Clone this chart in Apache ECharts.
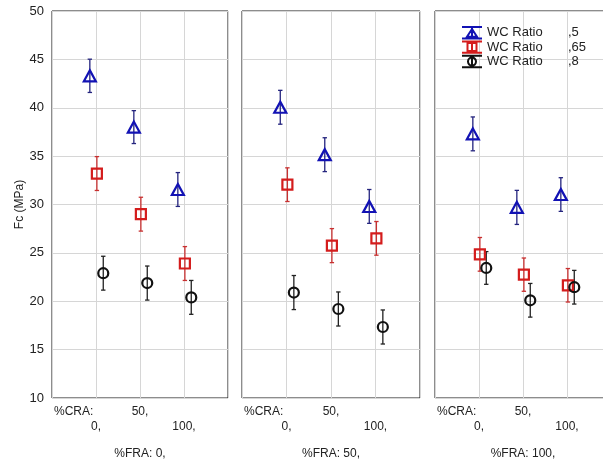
<!DOCTYPE html>
<html>
<head>
<meta charset="utf-8">
<script src="https://cdn.jsdelivr.net/npm/echarts@6/dist/echarts.min.js"></script>
<style>
html,body{margin:0;padding:0;background:#fff;}
#chart{width:603px;height:461px;}
</style>
</head>
<body>
<div id="chart"></div>
<script>
// Category labels
const craLevels = ['0,', '50,', '100,'];
const craTitle = '%CRA:';
const fraLabels = ['%FRA: 0,', '%FRA: 50,', '%FRA: 100,'];
const wcLabels = [',5', ',65', ',8'];
const yTicks = [10, 15, 20, 25, 30, 35, 40, 45, 50];

// Fc means, order: FRA 0 (CRA 0,50,100), FRA 50 (...), FRA 100 (...)
const fcWc05 = [43.3, 38.0, 31.55, 40.05, 35.15, 29.8, 37.3, 29.7, 31.03];
const fcWc065 = [33.2, 29.0, 23.9, 32.05, 25.75, 26.5, 24.85, 22.75, 21.65];
const fcWc08 = [22.9, 21.88, 20.4, 20.9, 19.2, 17.34, 23.44, 20.1, 21.45];

// Error bar half-widths (same order)
const errWc05 = [1.72, 1.7, 1.75, 1.75, 1.75, 1.75, 1.75, 1.76, 1.74];
const errWc065 = [1.75, 1.75, 1.75, 1.74, 1.76, 1.74, 1.74, 1.72, 1.73];
const errWc08 = [1.75, 1.76, 1.75, 1.76, 1.76, 1.76, 1.69, 1.74, 1.74];

const means = [fcWc05, fcWc065, fcWc08];
const errs = [errWc05, errWc065, errWc08];

// styles
const markerColors = ['#1212b4', '#d41c1c', '#111111'];
const barColors = ['#24247e', '#c83030', '#222222'];
const symbols = ['triangle', 'rect', 'circle'];
const symbolSizes = [[12, 11], 10, 10];
const xOffsets = [-0.14, 0.02, 0.165];
const gridLefts = [52, 242, 435];
const gridWidths = [176, 178, 176];
const FONT = 'Liberation Sans, Arial';

const legendIcons = [
  'path://M0,0.8H20M0,12.2H20M10,0.8V12.2M10,2.8L15,10.6H5Z',
  'path://M0,0.8H20M0,12.2H20M10,0.8V12.2M5.5,2.5H14.5V10.5H5.5Z',
  'path://M0,0.8H20M0,12.2H20M10,0.8V12.2M10,2.6A4,4 0 1,1 9.99,2.6Z'
];

const grids = [], xAxes = [], yAxes = [], series = [];
for (let p = 0; p < 3; p++) {
  grids.push({left: gridLefts[p], top: 11, width: gridWidths[p], height: 387,
    outerBoundsMode: 'none', containLabel: false,
    show: true, borderColor: '#1a1a1a', borderWidth: 1, backgroundColor: 'transparent'});
  // category value labels
  xAxes.push({
    gridIndex: p, type: 'value', min: 0, max: 4, interval: 1,
    axisLine: {show: false}, axisTick: {show: false},
    splitLine: {show: true, lineStyle: {color: '#d6d6d6', width: 1}},
    axisLabel: {
      show: true, showMinLabel: true, showMaxLabel: true, hideOverlap: false, margin: 6,
      color: '#222', fontFamily: FONT, fontSize: 12, lineHeight: 15,
      formatter: function (v) {
        if (v === 2) return craLevels[1];
        if (v === 1) return '\n' + craLevels[0];
        if (v === 3) return '\n' + craLevels[2];
        return '';
      }
    },
    name: fraLabels[p], nameLocation: 'middle', nameGap: 50,
    nameTextStyle: {color: '#222', fontFamily: FONT, fontSize: 12}
  });
  // "%CRA:" title axis
  xAxes.push({
    gridIndex: p, type: 'value', min: 0, max: 4, interval: 1, position: 'bottom',
    axisLine: {show: false}, axisTick: {show: false}, splitLine: {show: false},
    axisLabel: {
      show: true, showMinLabel: true, showMaxLabel: false, hideOverlap: false, margin: 6,
      align: 'left', color: '#222', fontFamily: FONT, fontSize: 12, lineHeight: 15,
      formatter: v => (v === 0 ? '{t|' + craTitle + '}' : ''),
      rich: {t: {fontSize: 12, lineHeight: 15, color: '#222', fontFamily: FONT, padding: [0, 0, 0, 2]}}
    }
  });
  yAxes.push({
    gridIndex: p, type: 'value', min: 10, max: 50, interval: 5,
    axisLine: {show: false}, axisTick: {show: false},
    splitLine: {show: true, lineStyle: {color: '#d6d6d6', width: 1}},
    axisLabel: {show: p === 0, margin: 8, color: '#222', fontFamily: FONT, fontSize: 13,
      formatter: v => (yTicks.indexOf(v) >= 0 ? String(v) : '')},
    name: p === 0 ? 'Fc (MPa)' : '', nameLocation: 'middle', nameGap: 26, nameRotate: 90,
    nameTextStyle: {color: '#222', fontFamily: FONT, fontSize: 12}
  });
  for (let s = 0; s < 3; s++) {
    const errData = [], ptData = [];
    for (let c = 0; c < 3; c++) {
      const m = means[s][p * 3 + c], e = errs[s][p * 3 + c];
      const x = c + 1 + xOffsets[s];
      errData.push([x, m - e, m + e]);
      ptData.push([x, m]);
    }
    const col = barColors[s];
    series.push({
      name: wcLabels[s], type: 'custom', xAxisIndex: p * 2, yAxisIndex: p, z: 2,
      silent: true, data: errData,
      renderItem: function (params, api) {
        const x = api.value(0);
        const lo = api.coord([x, api.value(1)]);
        const hi = api.coord([x, api.value(2)]);
        const st = {stroke: col, lineWidth: 1.3};
        return {type: 'group', children: [
          {type: 'line', shape: {x1: hi[0], y1: hi[1], x2: lo[0], y2: lo[1]}, style: st},
          {type: 'line', shape: {x1: hi[0] - 2.2, y1: hi[1], x2: hi[0] + 2.2, y2: hi[1]}, style: st},
          {type: 'line', shape: {x1: lo[0] - 2.2, y1: lo[1], x2: lo[0] + 2.2, y2: lo[1]}, style: st}
        ]};
      }
    });
    series.push({
      name: wcLabels[s], type: 'scatter', xAxisIndex: p * 2, yAxisIndex: p, z: 3,
      symbol: symbols[s], symbolSize: symbolSizes[s], data: ptData,
      itemStyle: {color: 'rgba(255,255,255,0)', borderColor: markerColors[s], borderWidth: 2.2, opacity: 1}
    });
  }
}

const option = {
  animation: false,
  backgroundColor: '#ffffff',
  grid: grids, xAxis: xAxes, yAxis: yAxes, series: series,
  legend: {
    show: true, orient: 'vertical', left: 461, top: 26, padding: 0,
    itemWidth: 20, itemHeight: 12, itemGap: 1,
    data: wcLabels.map((n, i) => ({
      name: n, icon: legendIcons[i],
      itemStyle: {color: 'rgba(255,255,255,0)', borderColor: markerColors[i], borderWidth: 2}
    })),
    formatter: n => '{a|WC Ratio}{b|' + n + '}',
    textStyle: {
      color: '#222', fontFamily: FONT, fontSize: 13,
      rich: {
        a: {width: 81, fontSize: 13, lineHeight: 14, color: '#222', fontFamily: FONT},
        b: {fontSize: 13, lineHeight: 14, color: '#222', fontFamily: FONT}
      }
    }
  }
};
const chart = echarts.init(document.getElementById('chart'), null, {renderer: 'canvas'});
chart.setOption(option);
</script>
</body>
</html>
